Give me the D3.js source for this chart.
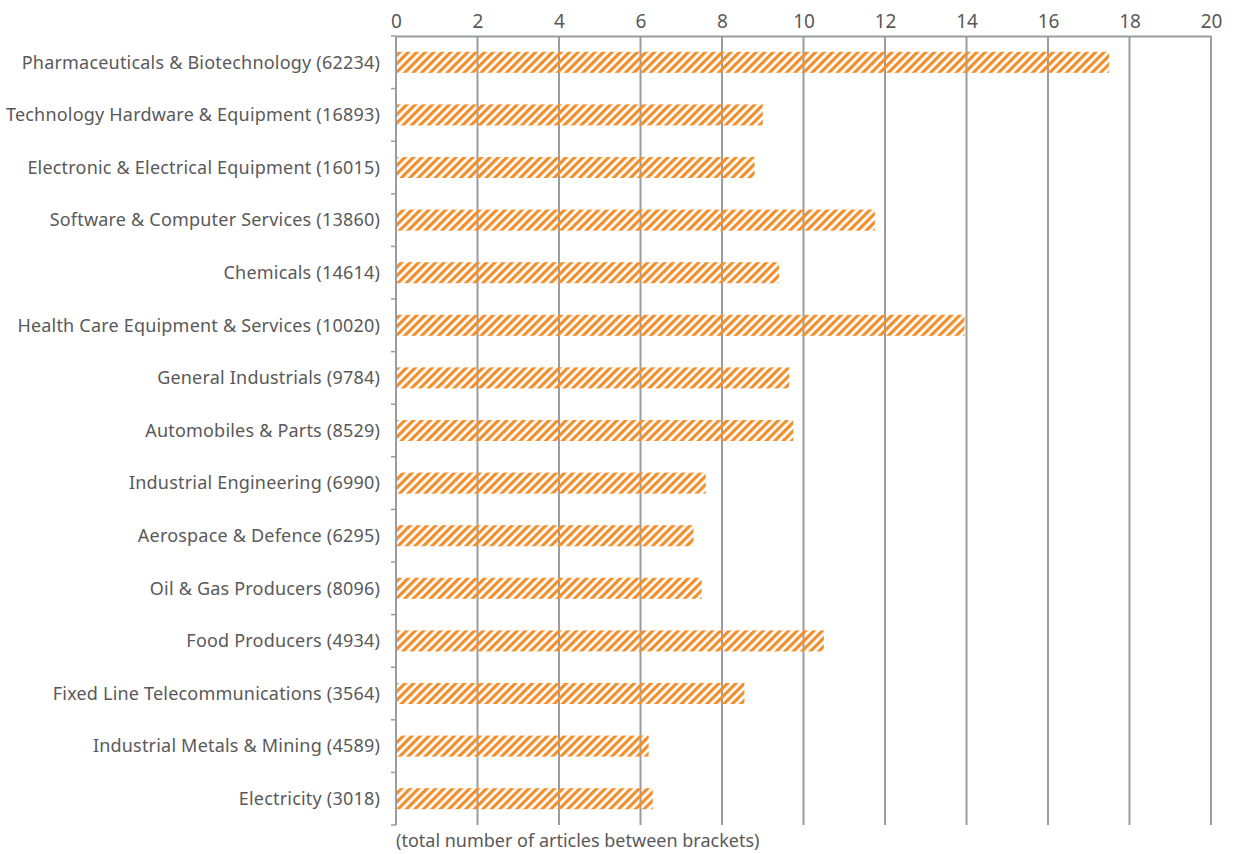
<!DOCTYPE html>
<html>
<head>
<meta charset="utf-8">
<script src="https://cdn.jsdelivr.net/npm/d3@7"></script>
<style>
  body { margin: 0; background: #fff; }
  svg { display: block; }
  text { font-family: "Noto Sans", "Open Sans", sans-serif; fill: #595959; }
</style>
</head>
<body>
<svg id="chart" width="1233" height="854"></svg>
<script>
// Sectors with their article totals, and the share plotted for each
const sectors = [
  "Pharmaceuticals & Biotechnology",
  "Technology Hardware & Equipment",
  "Electronic & Electrical Equipment",
  "Software & Computer Services",
  "Chemicals",
  "Health Care Equipment & Services",
  "General Industrials",
  "Automobiles & Parts",
  "Industrial Engineering",
  "Aerospace & Defence",
  "Oil & Gas Producers",
  "Food Producers",
  "Fixed Line Telecommunications",
  "Industrial Metals & Mining",
  "Electricity"
];
const articleTotals = [62234, 16893, 16015, 13860, 14614, 10020, 9784, 8529, 6990, 6295, 8096, 4934, 3564, 4589, 3018];
const values = [17.5, 9.0, 8.8, 11.75, 9.4, 13.95, 9.65, 9.75, 7.6, 7.3, 7.5, 10.5, 8.55, 6.2, 6.3];
const xTicks = [0, 2, 4, 6, 8, 10, 12, 14, 16, 18, 20];
const footnote = "(total number of articles between brackets)";

const labels = sectors.map((s, i) => `${s} (${articleTotals[i]})`);

const svg = d3.select("#chart");
const plotTop = 36, plotBottom = 825, plotLeft = 396, plotRight = 1211;

const x = d3.scaleLinear().domain([0, 20]).range([plotLeft, plotRight]);
const y = d3.scaleBand().domain(labels).range([plotTop, plotBottom]).paddingInner(0.6).paddingOuter(0.3);
const yEdges = d3.scaleBand().domain(labels).range([plotTop, plotBottom]).padding(0);

// Diagonal hatch fill
const defs = svg.append("defs");
const pat = defs.append("pattern")
  .attr("id", "hatch")
  .attr("patternUnits", "userSpaceOnUse")
  .attr("width", 6).attr("height", 6)
  .attr("patternTransform", "rotate(45)");
pat.append("rect").attr("x", 0).attr("y", 0).attr("width", 3.2).attr("height", 6).attr("fill", "#f28e2b");

// Vertical gridlines
svg.append("g")
  .selectAll("line")
  .data(xTicks.slice(1))
  .join("line")
  .attr("x1", d => x(d)).attr("x2", d => x(d))
  .attr("y1", plotTop).attr("y2", plotBottom)
  .attr("stroke", "#9a9c9f").attr("stroke-width", 2);

// Bars
svg.append("g")
  .selectAll("rect")
  .data(values)
  .join("rect")
  .attr("x", x(0))
  .attr("y", (d, i) => y(labels[i]))
  .attr("width", d => x(d) - x(0))
  .attr("height", y.bandwidth())
  .attr("fill", "url(#hatch)");

// Top axis
const xAxis = d3.axisTop(x).tickValues(xTicks).tickSize(0).tickPadding(8);
const gx = svg.append("g").attr("transform", `translate(0,${plotTop})`).call(xAxis);
gx.select(".domain").attr("stroke", "#9a9c9f").attr("stroke-width", 2);
gx.selectAll("text").style("font-size", "19px").attr("fill", "#595959");

// Left axis: line with ticks at category boundaries
const gy = svg.append("g");
gy.append("line")
  .attr("x1", x(0)).attr("x2", x(0))
  .attr("y1", plotTop).attr("y2", plotBottom)
  .attr("stroke", "#9a9c9f").attr("stroke-width", 2);
const edges = labels.map(l => yEdges(l)).concat([plotBottom]);
gy.selectAll("line.tick")
  .data(edges)
  .join("line")
  .attr("class", "tick")
  .attr("x1", x(0) - 5).attr("x2", x(0))
  .attr("y1", d => d).attr("y2", d => d)
  .attr("stroke", "#9a9c9f").attr("stroke-width", 1.5);

gy.selectAll("text")
  .data(labels)
  .join("text")
  .attr("x", x(0) - 16)
  .attr("y", d => y(d) + y.bandwidth() / 2)
  .attr("dy", "0.35em")
  .attr("text-anchor", "end")
  .style("font-size", "18px")
  .style("letter-spacing", "0.2px")
  .text(d => d);

svg.append("text")
  .attr("x", x(0))
  .attr("y", 847)
  .style("font-size", "18px")
  .text(footnote);
</script>
</body>
</html>
